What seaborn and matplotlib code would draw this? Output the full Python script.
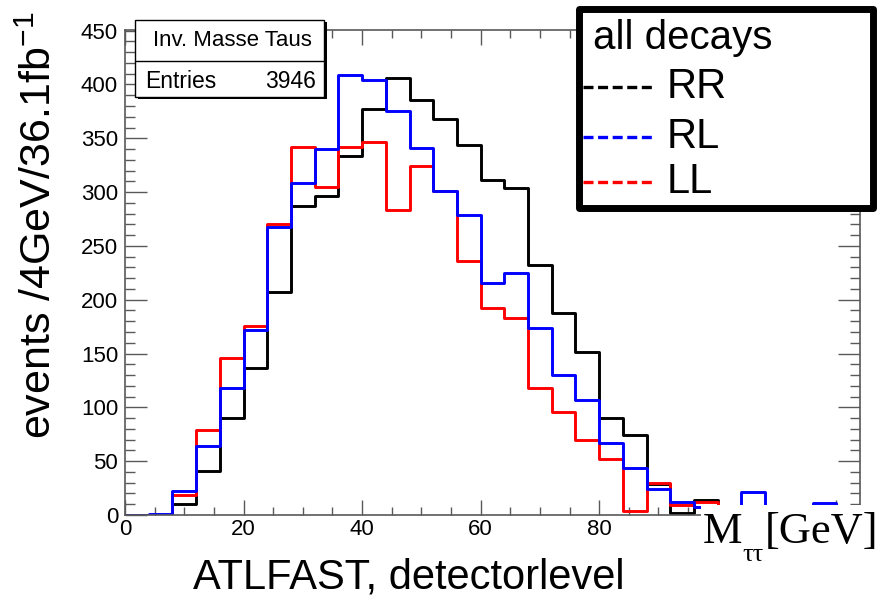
import numpy as np
import pandas as pd
import matplotlib
matplotlib.use("Agg")
import matplotlib.pyplot as plt
import seaborn as sns
from matplotlib.patches import Rectangle
from matplotlib.lines import Line2D
from matplotlib.ticker import MultipleLocator

# ---------------- data ----------------
bin_edges = list(range(0, 128, 4))          # 0 ... 124 GeV, 4 GeV bins
rr_counts = [0, 0, 10, 41, 90, 137, 207, 287, 296, 334, 377, 406, 386, 368, 344, 311,
             304, 232, 188, 151, 90, 74, 29, 2, 14, 6, 4, 2, 1, 1, 0]
rl_counts = [0, 1, 22, 64, 118, 172, 268, 308, 340, 409, 404, 375, 341, 301, 279, 216,
             225, 174, 130, 107, 67, 44, 24, 12, 7, 4, 21, 3, 2, 11, 0]
ll_counts = [0, 0, 19, 79, 146, 176, 270, 342, 305, 342, 347, 283, 324, 301, 236, 192,
             183, 118, 96, 70, 52, 4, 30, 9, 12, 5, 3, 2, 1, 0, 0]
series_names = ["RR", "LL", "RL"]           # drawing order (RL on top)
series_colors = {"RR": "#000000", "RL": "#0000ff", "LL": "#ff0000"}
legend_order = ["RR", "RL", "LL"]
x_ticks = [0, 20, 40, 60, 80, 100, 120]
x_tick_labels = ["0", "20", "40", "60", "80", "", ""]   # 100/120 hidden under the mass label
y_ticks = [0, 50, 100, 150, 200, 250, 300, 350, 400, 450]
stat_title = "Inv. Masse Taus"
stat_entries = 3946

# ---------------- style ----------------
sns.set_style("ticks")
plt.rcParams['font.family'] = ['Liberation Sans', 'DejaVu Sans']
plt.rcParams['mathtext.fontset'] = 'custom'
plt.rcParams['mathtext.rm'] = 'Liberation Sans'
plt.rcParams['mathtext.it'] = 'Liberation Sans:italic'
plt.rcParams['lines.scale_dashes'] = False
plt.rcParams['text.color'] = 'black'
plt.rcParams['axes.labelcolor'] = 'black'
plt.rcParams['xtick.labelcolor'] = 'black'
plt.rcParams['ytick.labelcolor'] = 'black'

W, H = 885, 600
fig = plt.figure(figsize=(W / 100, H / 100), dpi=100)
fig.patch.set_facecolor("white")
L, R, T, B = 125, 860, 30, 515
ax = fig.add_axes([L / W, 1 - B / H, (R - L) / W, (B - T) / H])

def fx(px):
    return px / W

def fy(py):
    return 1 - py / H

centers = [(bin_edges[i] + bin_edges[i + 1]) / 2 for i in range(len(bin_edges) - 1)]
data = {"RR": rr_counts, "RL": rl_counts, "LL": ll_counts}
for name in series_names:
    df = pd.DataFrame({"mass": centers, "events": data[name]})
    sns.histplot(data=df, x="mass", weights="events", bins=bin_edges,
                 element="step", fill=False, color=series_colors[name],
                 linewidth=2.1, ax=ax)

ax.set_xlim(0, 124)
ax.set_ylim(0, 450.6)
ax.set_xticks(x_ticks)
ax.set_xticklabels(x_tick_labels)
ax.set_yticks(y_ticks)
ax.xaxis.set_minor_locator(MultipleLocator(5))
ax.yaxis.set_minor_locator(MultipleLocator(10))
ax.tick_params(which="both", direction="in", top=True, right=True,
               color="0.35", width=1.0, labelcolor="black", labelsize=16)
ax.tick_params(axis="y", which="major", length=16, pad=5)
ax.tick_params(axis="y", which="minor", length=7.5)
ax.tick_params(axis="x", which="major", length=11, pad=3)
ax.tick_params(axis="x", which="minor", length=6)
for sp in ax.spines.values():
    sp.set_color("0.35")
    sp.set_linewidth(1.2)
ax.grid(False)

ax.set_xlabel("ATLFAST, detectorlevel", fontsize=30, color="black")
ax.xaxis.set_label_coords((409 - L) / (R - L), (B - 578) / (B - T))
ax.xaxis.label.set_verticalalignment("center")
ax.set_ylabel(r"events /4GeV/36.1fb$^{-1}$", fontsize=31, color="black")
ax.yaxis.set_label_coords((40 - L) / (R - L), (B - 225) / (B - T))
ax.yaxis.label.set_verticalalignment("center")
ax.yaxis.label.set_rotation_mode("default")

# ---------------- stats box ----------------
sx0, sx1, sy0, sy1 = 135, 324, 20, 97
fig.add_artist(Rectangle((fx(sx0 + 2.5), fy(sy1 + 2.5)), fx(sx1 - sx0), (sy1 - sy0) / H,
                         facecolor="black", edgecolor="none", zorder=5))
fig.add_artist(Rectangle((fx(sx0), fy(sy1)), fx(sx1 - sx0), (sy1 - sy0) / H,
                         facecolor="white", edgecolor="black", linewidth=1.0, zorder=6))
fig.add_artist(Line2D([fx(sx0), fx(sx1)], [fy(60.5), fy(60.5)], color="black",
                      linewidth=1.0, zorder=7))
fig.text(fx(232), fy(41), stat_title, ha="center", va="center", fontsize=16, zorder=8)
fig.text(fx(145), fy(81), "Entries", ha="left", va="center", fontsize=16.5, zorder=8)
fig.text(fx(316), fy(81), str(stat_entries), ha="right", va="center", fontsize=16.5, zorder=8)

# ---------------- legend box ----------------
lx0, lx1, ly0, ly1 = 579, 873, 9, 208
leg = Rectangle((fx(lx0), fy(ly1)), fx(lx1 - lx0), (ly1 - ly0) / H,
                facecolor="white", edgecolor="black", linewidth=5, zorder=5)
leg.set_joinstyle("round")
fig.add_artist(leg)
fig.text(fx(593), fy(38), "all decays", ha="left", va="center", fontsize=29, zorder=8)
for name, yy in zip(legend_order, [86.7, 136.7, 181.7]):
    fig.add_artist(Line2D([fx(583), fx(652)], [fy(yy), fy(yy)], color=series_colors[name],
                          linewidth=2.4, dashes=(7.2, 3.3), zorder=8))
    fig.text(fx(667), fy(yy), name, ha="left", va="center", fontsize=30, zorder=8)

# ---------------- mass label (covers the lower-right corner) ----------------
fig.add_artist(Rectangle((fx(701), fy(566)), fx(W - 701), (566 - 505) / H,
                         facecolor="white", edgecolor="none", zorder=10))
fig.text(fx(703), fy(543), "M", ha="left", va="baseline", fontsize=32,
         family="Liberation Serif", zorder=11)
fig.text(fx(742), fy(561), "\u03c4\u03c4", ha="left", va="baseline", fontsize=19,
         family="Liberation Serif", zorder=11)
fig.text(fx(765), fy(543), "[GeV]", ha="left", va="baseline", fontsize=32,
         family="Liberation Serif", zorder=11)

fig.savefig("out.png", dpi=100, facecolor="white")
